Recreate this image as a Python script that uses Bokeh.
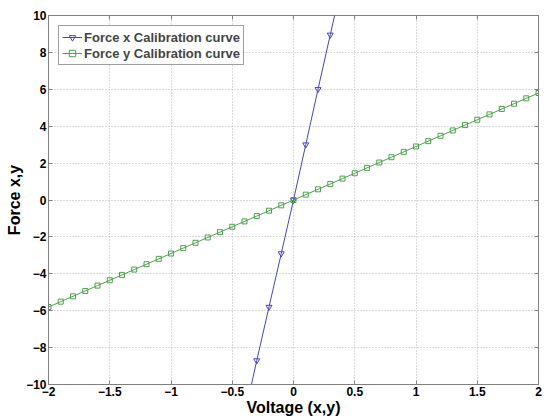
from bokeh.plotting import figure
from bokeh.models import (Range1d, LinearAxis, SingleIntervalTicker, Legend, LegendItem,
                          CustomJSTickFormatter)
from bokeh.embed import file_html
from bokeh.resources import INLINE

# Data
volt_x = [-0.4, -0.3, -0.2, -0.1, 0.0, 0.1, 0.2, 0.3, 0.4]
force_x = [-11.7, -8.7, -5.8, -2.9, 0.0, 3.0, 6.0, 8.95, 11.9]

volt_y = [-2.0, -1.9, -1.8, -1.7, -1.6, -1.5, -1.4, -1.3, -1.2, -1.1, -1.0,
          -0.9, -0.8, -0.7, -0.6, -0.5, -0.4, -0.3, -0.2, -0.1, 0.0,
          0.1, 0.2, 0.3, 0.4, 0.5, 0.6, 0.7, 0.8, 0.9, 1.0,
          1.1, 1.2, 1.3, 1.4, 1.5, 1.6, 1.7, 1.8, 1.9, 2.0]
force_y = [-5.80, -5.51, -5.22, -4.93, -4.64, -4.35, -4.06, -3.77, -3.48, -3.19, -2.90,
           -2.61, -2.32, -2.03, -1.74, -1.45, -1.16, -0.87, -0.58, -0.29, 0.00,
           0.29, 0.58, 0.87, 1.16, 1.45, 1.74, 2.03, 2.32, 2.61, 2.90,
           3.19, 3.48, 3.77, 4.06, 4.35, 4.64, 4.93, 5.22, 5.51, 5.80]

label_x = "Force x Calibration curve"
label_y = "Force y Calibration curve"

FONT = "Liberation Sans"
BLUE = "#4646b4"
GREEN = "#4ca04c"

p = figure(width=550, height=418, output_backend="svg", toolbar_location=None,
           x_range=Range1d(-2, 2), y_range=Range1d(-10, 10),
           min_border_left=48, min_border_right=12, min_border_top=15, min_border_bottom=33)
p.background_fill_color = "white"
p.border_fill_color = "white"
p.outline_line_color = "#808080"

lx = p.line(volt_x, force_x, line_color=BLUE, line_width=1)
sx = p.scatter(volt_x, force_x, marker="inverted_triangle", size=6,
               line_color=BLUE, fill_color=None, line_width=1)
ly = p.line(volt_y, force_y, line_color=GREEN, line_width=1)
sy = p.scatter(volt_y, force_y, marker="square", size=5,
               line_color=GREEN, fill_color=None, line_width=1)

xt = SingleIntervalTicker(interval=0.5)
yt = SingleIntervalTicker(interval=2)
p.xaxis.ticker = xt
p.yaxis.ticker = yt

for ax in (p.xaxis[0], p.yaxis[0]):
    ax.major_tick_in = 4
    ax.major_tick_out = 0
    ax.minor_tick_in = 0
    ax.minor_tick_out = 0
    ax.axis_line_color = "#808080"
    ax.major_tick_line_color = "#808080"
    ax.major_label_text_font = FONT
    ax.major_label_text_font_style = "bold"
    ax.major_label_text_font_size = "12px"
    ax.major_label_text_color = "black"
    ax.axis_label_text_font = FONT
    ax.axis_label_text_font_style = "bold"
    ax.axis_label_text_font_size = "16px"
    ax.axis_label_text_color = "black"
    ax.major_label_standoff = 2
    ax.axis_label_standoff = 0

p.xaxis.axis_label = "Voltage (x,y)"
p.yaxis.axis_label = "Force x,y"

# box ticks on top and right (no labels)
blank = CustomJSTickFormatter(code="return '';")
top = LinearAxis(ticker=SingleIntervalTicker(interval=0.5), formatter=blank,
                 major_tick_in=4, major_tick_out=0, minor_tick_in=0, minor_tick_out=0,
                 axis_line_color=None, major_tick_line_color="#808080", major_label_standoff=0)
right = LinearAxis(ticker=SingleIntervalTicker(interval=2), formatter=blank,
                   major_tick_in=4, major_tick_out=0, minor_tick_in=0, minor_tick_out=0,
                   axis_line_color=None, major_tick_line_color="#808080", major_label_standoff=0)
p.add_layout(top, "above")
p.add_layout(right, "right")

p.xgrid.ticker = xt
p.ygrid.ticker = yt
p.grid.grid_line_color = "#b4b4b4"
p.grid.grid_line_dash = "1 2"
p.grid.grid_line_width = 1

legend = Legend(items=[LegendItem(label=label_x, renderers=[lx, sx]),
                       LegendItem(label=label_y, renderers=[ly, sy])],
                location="top_left")
legend.margin = 10
legend.padding = 3
legend.spacing = 0
legend.label_text_font = FONT
legend.label_text_font_style = "bold"
legend.label_text_font_size = "13px"
legend.label_height = 16
legend.glyph_height = 16
legend.glyph_width = 20
legend.label_standoff = 2
legend.border_line_color = "#404040"
legend.border_line_width = 1
legend.background_fill_color = "white"
legend.background_fill_alpha = 1
p.add_layout(legend)

open("out.html", "w").write(file_html(p, INLINE))
